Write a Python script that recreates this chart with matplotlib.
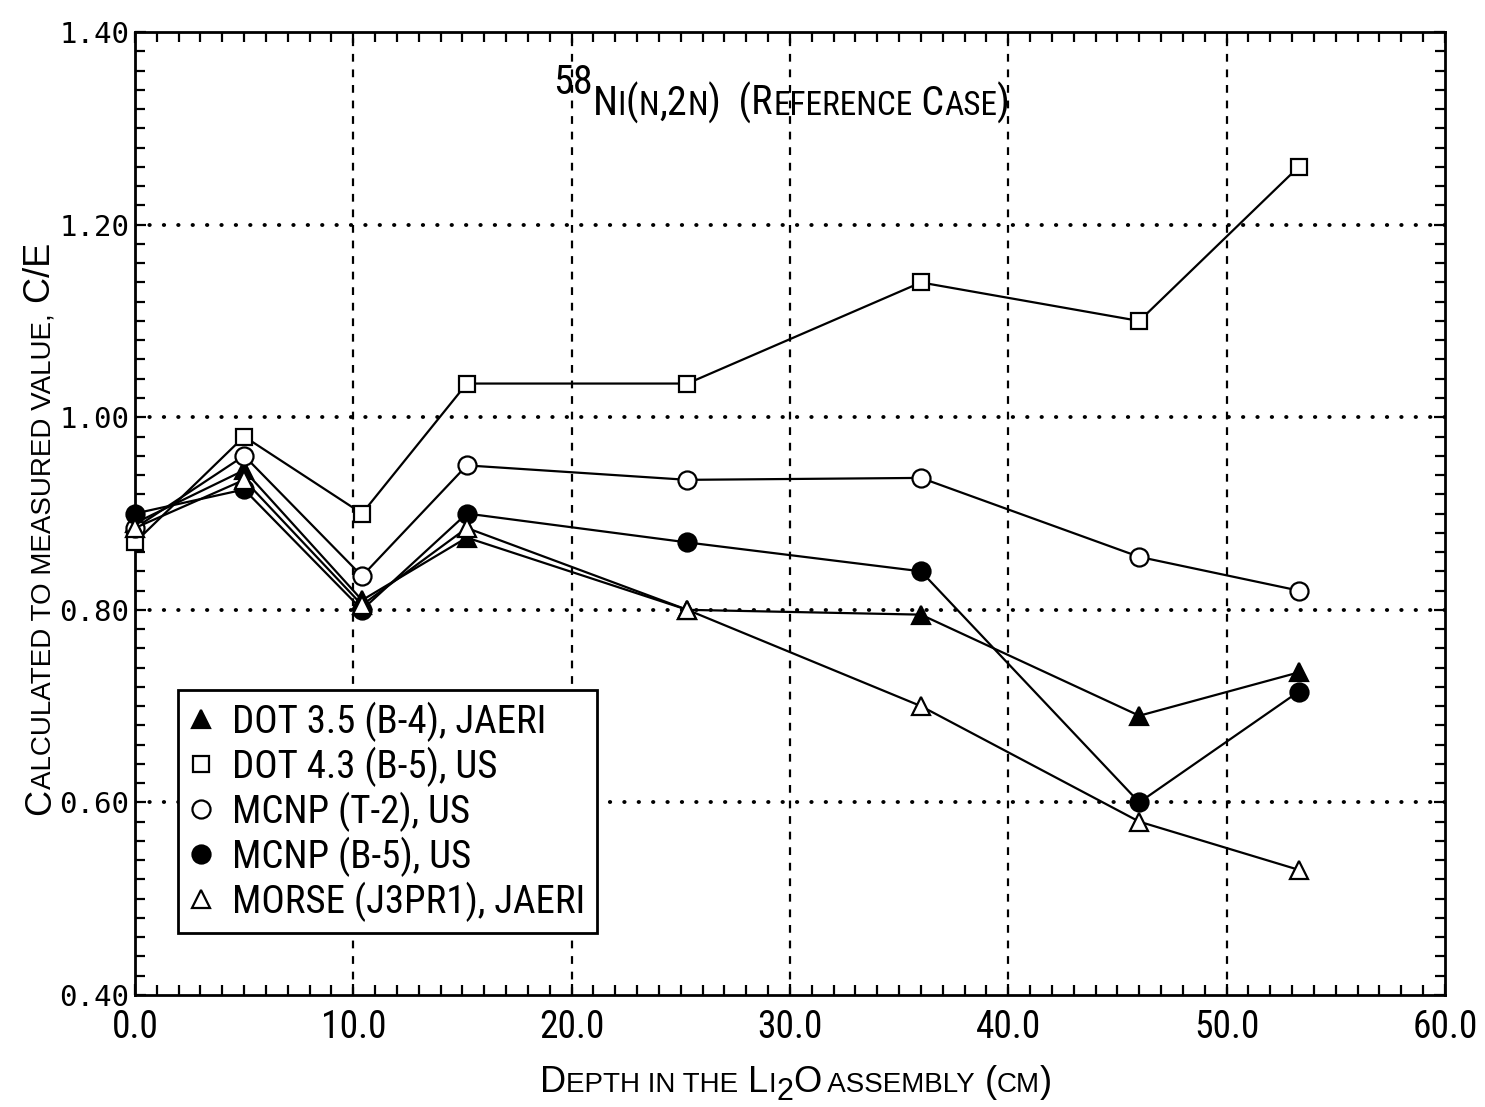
import matplotlib
matplotlib.use("Agg")
import matplotlib.pyplot as plt
from matplotlib.lines import Line2D
from matplotlib.ticker import MultipleLocator, FixedLocator, FixedFormatter
from matplotlib.transforms import offset_copy
from matplotlib.font_manager import FontProperties

# ---------------- data ----------------
depth = [0.0, 5.0, 10.4, 15.2, 25.3, 36.0, 46.0, 53.3]
dot35_jaeri = [0.89, 0.945, 0.81, 0.875, 0.80, 0.795, 0.69, 0.735]
dot43_us = [0.87, 0.98, 0.90, 1.035, 1.035, 1.14, 1.10, 1.26]
mcnp_t2_us = [0.885, 0.96, 0.835, 0.95, 0.935, 0.937, 0.855, 0.82]
mcnp_b5_us = [0.90, 0.925, 0.80, 0.90, 0.87, 0.84, 0.60, 0.715]
morse_jaeri = [0.885, 0.935, 0.805, 0.885, 0.80, 0.70, 0.58, 0.53]

series_labels = ["DOT 3.5 (B-4), JAERI", "DOT 4.3 (B-5), US", "MCNP (T-2), US",
                 "MCNP (B-5), US", "MORSE (J3PR1), JAERI"]
x_ticks = [0, 10, 20, 30, 40, 50, 60]
x_tick_labels = ["0.0", "10.0", "20.0", "30.0", "40.0", "50.0", "60.0"]
y_ticks = [0.40, 0.60, 0.80, 1.00, 1.20, 1.40]
y_tick_labels = ["0.40", "0.60", "0.80", "1.00", "1.20", "1.40"]
x_grid = [10, 20, 30, 40, 50]
y_grid = [0.60, 0.80, 1.00, 1.20]

NARROW = ["Roboto Condensed", "Archivo Narrow", "PT Sans Narrow",
          "Liberation Sans Narrow", "DejaVu Sans"]
REG = ["Liberation Sans", "DejaVu Sans"]
MONO = ["DejaVu Sans Mono", "DejaVu Sans"]

fig = plt.figure(figsize=(14.85, 11.07), dpi=100)
ax = fig.add_axes([0.0909, 0.1012, 0.973 - 0.0909, 0.971 - 0.1012])

ax.set_xlim(0, 60)
ax.set_ylim(0.40, 1.40)

# grid
for gx in x_grid:
    ax.axvline(gx, color="black", lw=1.6, ls=(0, (3.5, 3.5)), zorder=1)
for gy in y_grid:
    ax.axhline(gy, color="black", lw=2.8, ls=(0, (0.1, 3.6)),
               dash_capstyle="round", zorder=1)

styles = [
    dict(marker="^", mfc="black", ms=13),
    dict(marker="s", mfc="white", ms=12),
    dict(marker="o", mfc="white", ms=13),
    dict(marker="o", mfc="black", ms=13),
    dict(marker="^", mfc="white", ms=13),
]
series = [dot35_jaeri, dot43_us, mcnp_t2_us, mcnp_b5_us, morse_jaeri]
handles = []
for vals, st, lab in zip(series, styles, series_labels):
    ax.plot(depth, vals, color="black", lw=1.6, marker=st["marker"],
            ms=st["ms"], mfc=st["mfc"], mec="black", mew=1.6,
            clip_on=False, zorder=3)
    handles.append(Line2D([], [], ls="none", color="black", marker=st["marker"],
                          ms=st["ms"], mfc=st["mfc"], mec="black", mew=1.6,
                          label=lab))

# ticks
ax.xaxis.set_major_locator(FixedLocator(x_ticks))
ax.xaxis.set_major_formatter(FixedFormatter(x_tick_labels))
ax.xaxis.set_minor_locator(MultipleLocator(1))
ax.yaxis.set_major_locator(FixedLocator(y_ticks))
ax.yaxis.set_major_formatter(FixedFormatter(y_tick_labels))
ax.yaxis.set_minor_locator(MultipleLocator(0.02))
ax.tick_params(which="both", direction="in", top=True, right=True,
               width=1.6, color="black")
ax.tick_params(which="major", length=8)
ax.tick_params(which="minor", length=7)
ax.tick_params(axis="x", which="major", pad=10)
ax.tick_params(axis="y", which="major", pad=4)
for lbl in ax.get_xticklabels():
    lbl.set_fontproperties(FontProperties(family=NARROW, size=27))
for lbl in ax.get_yticklabels():
    lbl.set_fontproperties(FontProperties(family=MONO, size=21))

for sp in ax.spines.values():
    sp.set_linewidth(2.0)
    sp.set_color("black")

leg = ax.legend(handles=handles, loc="upper left",
                bbox_to_anchor=((178 - 135) / 1310.0, (995 - 690) / 963.0),
                borderaxespad=0, prop=FontProperties(family=NARROW, size=28),
                frameon=True, fancybox=False, framealpha=1, edgecolor="black",
                borderpad=0.3, labelspacing=0.12, handlelength=0.6,
                handletextpad=0.5)
leg.get_frame().set_linewidth(2.0)
leg.set_zorder(10)


def sc_text(x, y, pieces, family, rotation=0):
    """Draw pseudo small-caps text as successive pieces on one baseline."""
    renderer = fig.canvas.get_renderer()
    off = 0.0
    for s, size, dy in pieces:
        prop = FontProperties(family=family, size=size)
        if rotation == 0:
            tr = offset_copy(fig.transFigure, fig=fig, x=off, y=dy, units="dots")
        else:
            tr = offset_copy(fig.transFigure, fig=fig, x=-dy, y=off, units="dots")
        fig.text(x, y, s, fontproperties=prop, transform=tr, rotation=rotation,
                 rotation_mode="anchor", ha="left", va="baseline")
        w_bar = renderer.get_text_width_height_descent("|", prop, ismath=False)[0]
        w_s = renderer.get_text_width_height_descent(s + "|", prop, ismath=False)[0]
        off += w_s - w_bar


W, H = 1485.0, 1107.0
# title inside the plot
sc_text(553 / W, 1 - 115 / H,
        [("58", 29, 21), ("N", 29, 0), ("I", 24, 0), ("(", 29, 0), ("N", 24, 0),
         (",2", 29, 0), ("N", 24, 0), (")", 29, 0), ("  (R", 29, 0),
         ("EFERENCE", 24, 0), (" C", 29, 0), ("ASE", 24, 0), (")", 29, 0)],
        NARROW)
# x label
sc_text(540 / W, 1 - 1092 / H,
        [("D", 26, 0), ("EPTH IN THE", 20, 0), (" L", 26, 0), ("I", 20, 0),
         ("2", 22, -8), ("O", 26, 0), (" ASSEMBLY", 20, 0), (" (", 26, 0),
         ("CM", 20, 0), (")", 26, 0)],
        REG)
# y label
sc_text(50 / W, 1 - 815 / H,
        [("C", 26, 0), ("ALCULATED TO MEASURED VALUE,", 20, 0), (" C/E", 26, 0)],
        REG, rotation=90)

fig.savefig("out.png", dpi=100)
